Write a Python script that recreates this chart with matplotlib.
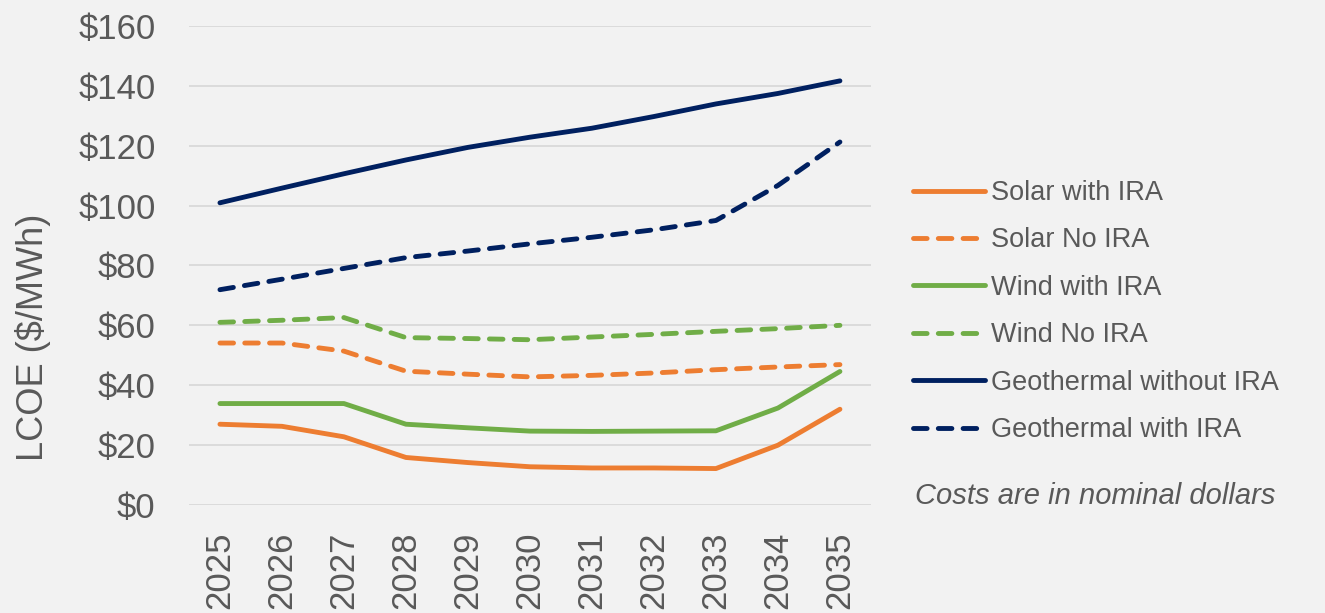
import matplotlib.pyplot as plt

# LCOE projections, $/MWh (nominal)
years = [2025, 2026, 2027, 2028, 2029, 2030, 2031, 2032, 2033, 2034, 2035]
solar_ira = [27.0, 26.3, 22.8, 15.9, 14.2, 12.8, 12.4, 12.4, 12.2, 20.0, 32.0]
solar_no_ira = [54.1, 54.1, 51.4, 44.7, 43.7, 42.8, 43.3, 44.1, 45.2, 46.1, 46.9]
wind_ira = [33.9, 33.9, 33.9, 27.0, 25.8, 24.7, 24.6, 24.7, 24.8, 32.4, 44.6]
wind_no_ira = [61.0, 61.7, 62.6, 55.9, 55.6, 55.2, 56.1, 57.0, 58.0, 58.9, 60.0]
geo_no_ira = [100.9, 105.8, 110.6, 115.2, 119.4, 122.8, 125.8, 129.7, 133.9, 137.4, 141.6]
geo_ira = [71.9, 75.4, 79.0, 82.6, 84.8, 87.2, 89.4, 91.9, 95.0, 106.7, 121.2]

series = [
    ("Solar with IRA", solar_ira, "#ED7D31", "-"),
    ("Solar No IRA", solar_no_ira, "#ED7D31", "--"),
    ("Wind with IRA", wind_ira, "#70AD47", "-"),
    ("Wind No IRA", wind_no_ira, "#70AD47", "--"),
    ("Geothermal without IRA", geo_no_ira, "#002060", "-"),
    ("Geothermal with IRA", geo_ira, "#002060", "--"),
]

plt.rcParams['font.family'] = ['Liberation Sans', 'DejaVu Sans']
txt = '#595959'
bg = '#F2F2F2'

fig = plt.figure(figsize=(13.25, 6.13), dpi=100, facecolor=bg)
ax = fig.add_axes([0.1426, 0.176, 0.5147, 0.782], facecolor=bg)

x = list(range(len(years)))
for label, vals, color, ls in series:
    line, = ax.plot(x, vals, color=color, lw=3.5, label=label,
                    solid_capstyle='round', solid_joinstyle='round',
                    dash_capstyle='round', dash_joinstyle='round')
    if ls == '--':
        line.set_dashes((2.8, 2.3))

ax.set_xlim(-0.5, len(years) - 0.5)
ax.set_ylim(0, 160)
ax.set_yticks(range(0, 161, 20))
ax.set_yticklabels([f'${v}' for v in range(0, 161, 20)])
ax.set_xticks(x)
ax.set_xticklabels([str(y) for y in years], rotation=90)
ax.tick_params(axis='y', length=0, pad=24, labelsize=25, labelcolor=txt)
ax.tick_params(axis='x', length=0, pad=19, labelsize=25, labelcolor=txt)
ax.grid(axis='y', color='#D9D9D9', lw=1.3)
ax.set_axisbelow(True)
for s in ax.spines.values():
    s.set_visible(False)

fig.text(33 / 1325, 0.450, 'LCOE ($/MWh)', rotation=90, ha='center', va='center',
         fontsize=26, color=txt)

leg = fig.legend(loc='upper left', bbox_to_anchor=(0.689, 1 - 180 / 613), frameon=False,
                 fontsize=19.5, handlelength=2.67, handletextpad=0.2,
                 labelspacing=0.79, borderpad=0, borderaxespad=0)
for t in leg.get_texts():
    t.set_color(txt)

fig.text(915 / 1325, 1 - 496 / 613, 'Costs are in nominal dollars', style='italic',
         ha='left', va='center', fontsize=21, color=txt)

fig.savefig('out.png', dpi=100, facecolor=bg)
